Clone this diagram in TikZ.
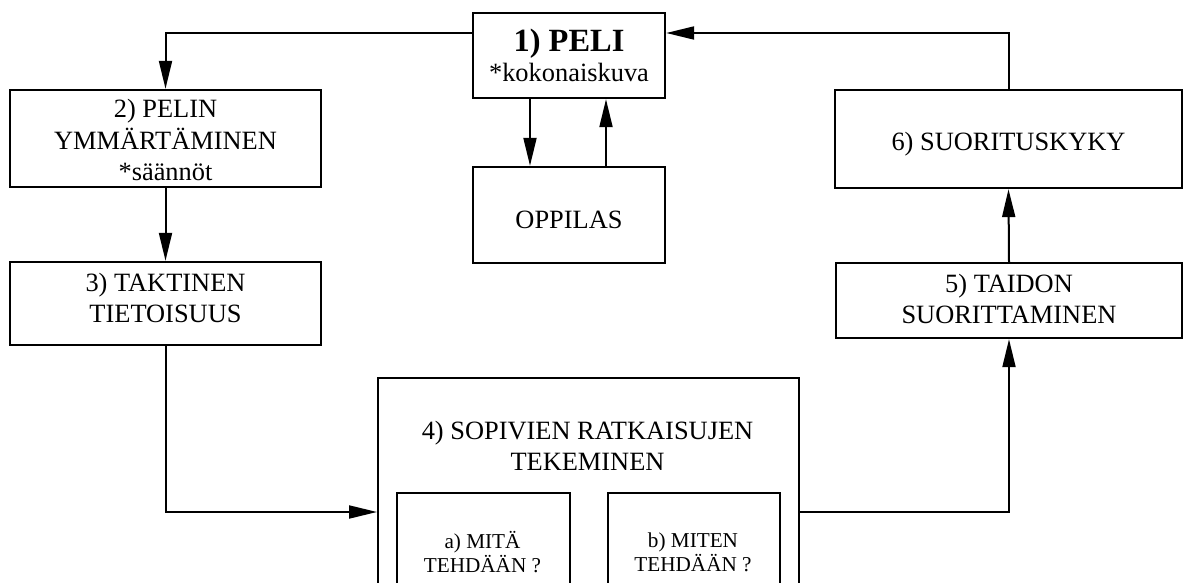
\documentclass[tikz,border=0pt]{standalone}
\usepackage{fontspec}
\setmainfont{Liberation Serif}
\usetikzlibrary{arrows.meta,calc}
\begin{document}
\begin{tikzpicture}[x=0.5pt,y=-0.5pt,
  box/.style={draw,line width=1.2pt,rectangle,inner sep=0pt,align=center,
    font=\fontsize{13.2}{15.75}\selectfont},
  inbox/.style={draw,line width=1.2pt,rectangle,inner sep=0pt,anchor=north west},
  txt/.style={align=center,inner sep=0pt,font=\fontsize{13.2}{15.75}\selectfont},
  stxt/.style={align=center,inner sep=0pt,font=\fontsize{10.6}{10}\selectfont},
  arr/.style={line width=1pt,-{Triangle[length=14pt,width=6.5pt]}},
  ln/.style={line width=1pt}]
\path[use as bounding box,clip] (0,0) rectangle (1190,583);
\fill[white] (0,0) rectangle (1190,583);
% boxes
\node[box,minimum width=192*0.5pt,minimum height=85*0.5pt] (b1) at (569,55.5)
  {{\fontsize{16.2}{16.2}\selectfont\bfseries 1) PELI}\\[-1pt]*kokonaiskuva};
\node[box,minimum width=192*0.5pt,minimum height=96*0.5pt] (opp) at (569,215) {};
\node[txt] (topp) at (569,220) {OPPILAS};
\node[box,minimum width=311*0.5pt,minimum height=97*0.5pt] (b2) at (165.5,138.5) {};
\node[txt] (t2) at (165.5,140) {2) PELIN\\YMMÄRTÄMINEN\\*säännöt};
\node[box,minimum width=311*0.5pt,minimum height=83*0.5pt] (b3) at (165.5,303.5) {};
\node[txt] (t3) at (165.5,298) {3) TAKTINEN\\TIETOISUUS};
\node[box,minimum width=347*0.5pt,minimum height=98*0.5pt] (b6) at (1008.5,139) {};
\node[txt] (t6) at (1008.5,144) {6) SUORITUSKYKY};
\node[box,minimum width=346*0.5pt,minimum height=75*0.5pt] (b5) at (1009,300.5) {};
\node[txt] (t5) at (1009,299) {5) TAIDON\\SUORITTAMINEN};
\node[inbox,minimum width=421*0.5pt,minimum height=260*0.5pt] (b4) at (377,377) {};
\node[txt] (t4) at (587.5,446) {4) SOPIVIEN RATKAISUJEN\\TEKEMINEN};
\node[inbox,minimum width=173*0.5pt,minimum height=150*0.5pt] (ba) at (396,492) {};
\node[stxt] (ta) at (482.5,552) {a) MITÄ\\TEHDÄÄN ?};
\node[inbox,minimum width=172*0.5pt,minimum height=150*0.5pt] (bb) at (607,492) {};
\node[stxt] (tb) at (693,552) {b) MITEN\\TEHDÄÄN ?};
% helper coordinates
\coordinate (top) at (166,33);
\coordinate (c1) at (530,0);
\coordinate (c2) at (606,0);
\coordinate (low) at (0,512);
% connectors
\draw[arr] (b1.west |- top) -| (b2.north);
\draw[arr] (b6.north) |- (b1.east |- top);
\draw[arr] (b1.south -| c1) -- (opp.north -| c1);
\draw[arr] (opp.north -| c2) -- (b1.south -| c2);
\draw[arr] (b2.south) -- (b3.north);
\draw[arr] (b3.south) |- (b4.west |- low);
\draw[arr] (b4.east |- low) -| (b5.south);
\draw[arr] (b5.north) -- (b6.south);
\end{tikzpicture}
\end{document}
